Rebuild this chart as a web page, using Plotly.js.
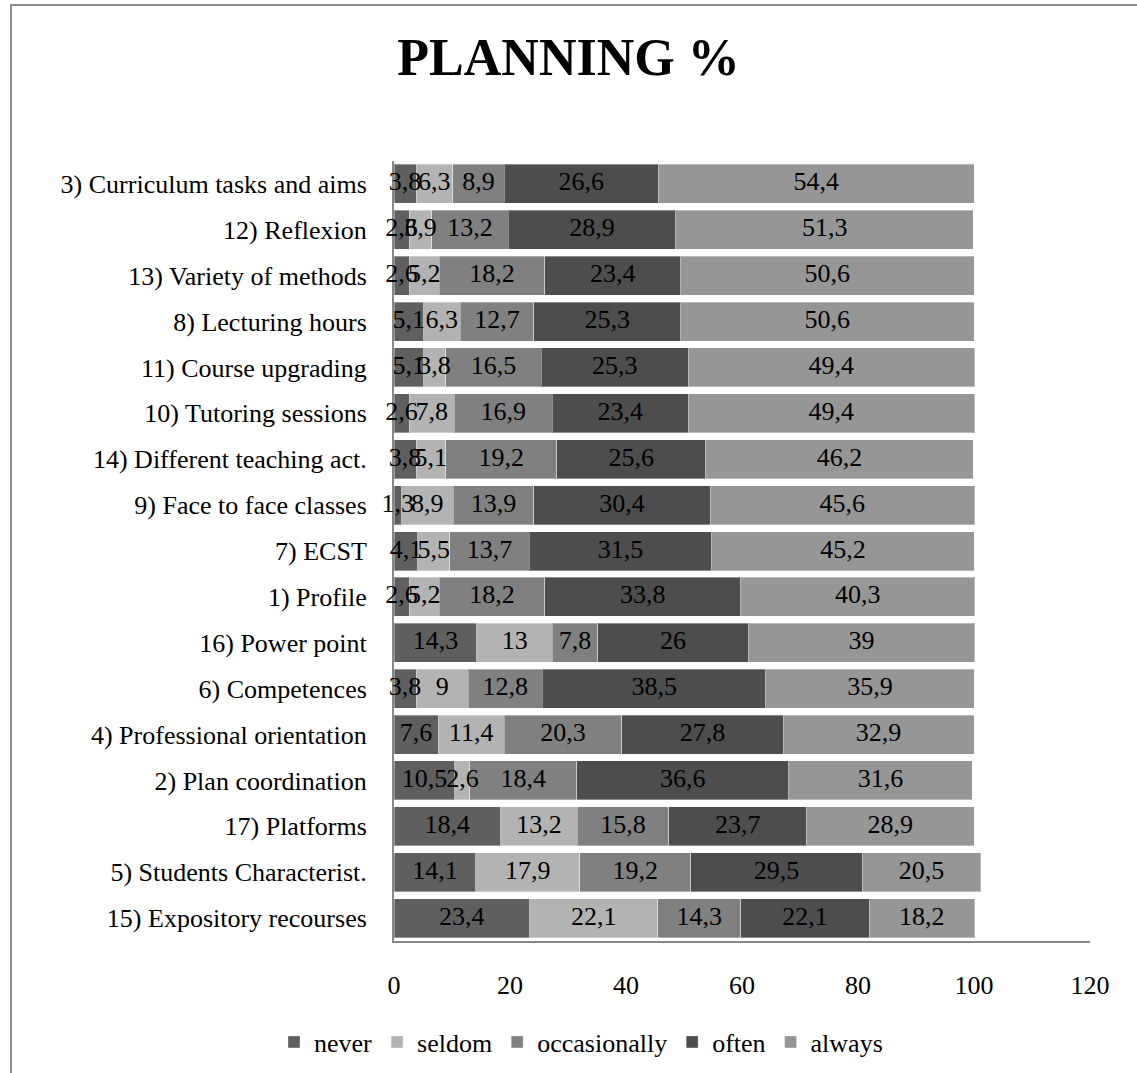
<!DOCTYPE html>
<html>
<head>
<meta charset="utf-8">
<script src="https://cdn.plot.ly/plotly-3.0.1.min.js"></script>
<style>
  html, body { margin: 0; padding: 0; background: #ffffff; }
  #wrap { position: relative; width: 1137px; height: 1073px; overflow: hidden; }
  #chart { position: absolute; left: 0; top: 0; width: 1137px; height: 1073px; }
  #frame { position: absolute; left: 10px; top: 4px; right: -4px; bottom: -4px;
           border-top: 2px solid #8f8f8f; border-left: 2px solid #8f8f8f; pointer-events: none; }
</style>
</head>
<body>
<div id="wrap">
  <div id="chart"></div>
  <div id="frame"></div>
</div>
<script>
// Categories, top to bottom
const categories = [
  "3) Curriculum tasks and aims",
  "12) Reflexion",
  "13) Variety of methods",
  "8) Lecturing hours",
  "11) Course upgrading",
  "10) Tutoring sessions",
  "14) Different teaching act.",
  "9) Face to face classes",
  "7) ECST",
  "1) Profile",
  "16) Power point",
  "6) Competences",
  "4) Professional orientation",
  "2) Plan coordination",
  "17) Platforms",
  "5) Students Characterist.",
  "15) Expository recourses"
];

const never        = [3.8, 2.6, 2.6, 5.1, 5.1, 2.6, 3.8, 1.3, 4.1, 2.6, 14.3, 3.8, 7.6, 10.5, 18.4, 14.1, 23.4];
const seldom       = [6.3, 3.9, 5.2, 6.3, 3.8, 7.8, 5.1, 8.9, 5.5, 5.2, 13, 9, 11.4, 2.6, 13.2, 17.9, 22.1];
const occasionally = [8.9, 13.2, 18.2, 12.7, 16.5, 16.9, 19.2, 13.9, 13.7, 18.2, 7.8, 12.8, 20.3, 18.4, 15.8, 19.2, 14.3];
const often        = [26.6, 28.9, 23.4, 25.3, 25.3, 23.4, 25.6, 30.4, 31.5, 33.8, 26, 38.5, 27.8, 36.6, 23.7, 29.5, 22.1];
const always       = [54.4, 51.3, 50.6, 50.6, 49.4, 49.4, 46.2, 45.6, 45.2, 40.3, 39, 35.9, 32.9, 31.6, 28.9, 20.5, 18.2];

const seriesNames = ["never", "seldom", "occasionally", "often", "always"];
const xTicks = [0, 20, 40, 60, 80, 100, 120];

const seriesValues = [never, seldom, occasionally, often, always];
const colors = ["#5f5f5f", "#b3b3b3", "#808080", "#4d4d4d", "#969696"];
const FONT = "Liberation Serif, Times New Roman, serif";
const FS = 26;

function fmt(v) { return String(v).replace('.', ','); }

const barTraces = seriesValues.map((vals, i) => ({
  type: 'bar',
  orientation: 'h',
  name: seriesNames[i],
  y: categories,
  x: vals,
  textposition: 'none',
  marker: { color: colors[i], line: { width: 1, color: 'rgba(255,255,255,0.35)' } },
  hoverinfo: 'skip'
}));

// Label layer: centred on each stacked segment, drawn above all bars
const cum = categories.map(() => 0);
const labelTraces = seriesValues.map((vals) => {
  const mids = vals.map((v, j) => cum[j] + v / 2);
  vals.forEach((v, j) => { cum[j] += v; });
  return {
    type: 'scatter',
    mode: 'text',
    x: mids,
    y: categories,
    text: vals.map(fmt),
    textposition: 'middle center',
    textfont: { family: FONT, size: FS, color: '#000000' },
    cliponaxis: false,
    showlegend: false,
    hoverinfo: 'skip'
  };
});

const layout = {
  width: 1137,
  height: 1073,
  barmode: 'stack',
  bargap: 0.15,
  paper_bgcolor: '#ffffff',
  plot_bgcolor: '#ffffff',
  font: { family: FONT, size: FS, color: '#000000' },
  margin: { l: 394, r: 47, t: 161, b: 132, pad: 0 },
  title: {
    text: '<b>PLANNING %</b>',
    font: { family: FONT, size: 52, color: '#000000' },
    x: 0.5, xref: 'container', xanchor: 'center',
    y: 1 - 57 / 1073, yref: 'container', yanchor: 'middle'
  },
  xaxis: {
    range: [0, 120],
    autorange: false,
    tickvals: xTicks,
    ticktext: xTicks.map(String),
    showgrid: false,
    zeroline: false,
    showline: true,
    linecolor: '#888888',
    linewidth: 2,
    ticks: '',
    ticklabelstandoff: 20,
    tickfont: { family: FONT, size: FS, color: '#000000' },
    layer: 'below traces',
    fixedrange: true
  },
  yaxis: {
    type: 'category',
    categoryorder: 'array',
    categoryarray: categories,
    range: [categories.length - 0.5, -0.5],
    autorange: false,
    showgrid: false,
    zeroline: false,
    showline: true,
    linecolor: '#888888',
    linewidth: 2,
    ticks: '',
    ticklabelstandoff: 20,
    tickfont: { family: FONT, size: FS, color: '#000000' },
    layer: 'below traces',
    fixedrange: true
  },
  legend: {
    orientation: 'h',
    xref: 'container', yref: 'container',
    x: 0.511, xanchor: 'center',
    y: 1 - 1042 / 1073, yanchor: 'middle',
    font: { family: FONT, size: FS, color: '#000000' },
    traceorder: 'normal',
    itemwidth: 30
  },
  showlegend: true
};

Plotly.newPlot('chart', barTraces.concat(labelTraces), layout, { displayModeBar: false, staticPlot: true });
</script>
</body>
</html>
